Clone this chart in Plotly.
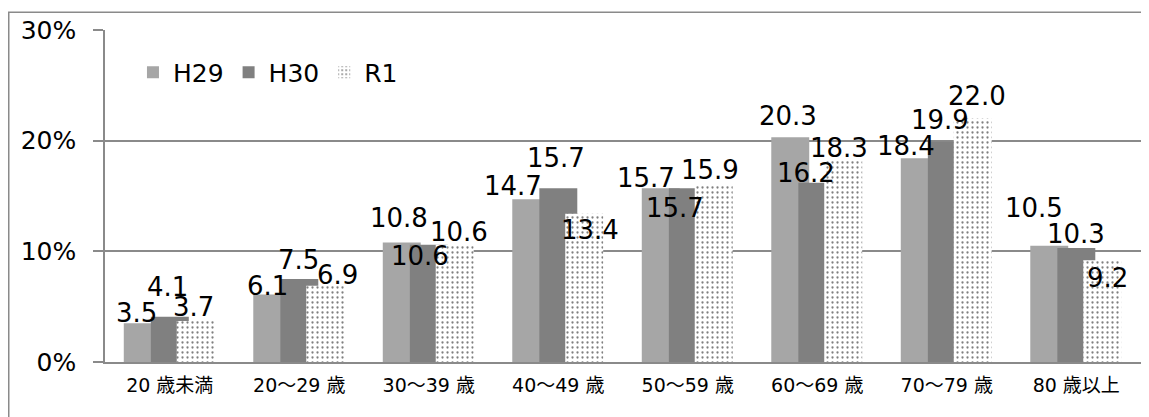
import plotly.graph_objects as go

# age groups and share (%) per fiscal year
ages = ["20 歳未満", "20～29 歳", "30～39 歳", "40～49 歳",
        "50～59 歳", "60～69 歳", "70～79 歳", "80 歳以上"]
h29 = [3.5, 6.1, 10.8, 14.7, 15.7, 20.3, 18.4, 10.5]
h30 = [4.1, 7.5, 10.6, 15.7, 15.7, 16.2, 19.9, 10.3]
r1 = [3.7, 6.9, 10.6, 13.4, 15.9, 18.3, 22.0, 9.2]
y_ticks = [0, 10, 20, 30]
y_tick_text = ["0%", "10%", "20%", "30%"]

FONT = "DejaVu Sans, Noto Sans CJK JP, sans-serif"
GRID = "#8a8a8a"

# bar geometry (overlapping bars, as in the original spreadsheet chart)
BAR_W = 0.293
OFFSETS = [-0.355, -0.146, 0.054]

# hand placed label nudges in px (dx, dy) relative to each bar's top centre
NUDGE = {
    "H29": [(-6, 10), (-5, 8), (-3, 24), (-18, 13), (-15, 10), (-2, 21), (-14, 12), (-15, 38)],
    "H30": [(-2, 30), (-1, 19), (-9, -11), (-2, 30), (-13, -20), (-11, 10), (-7, 22), (0, 14)],
    "R1": [(-2, 14), (12, 11), (4, 13), (6, -16), (-4, 16), (-4, 11), (4, 23), (5, -18)],
}

fig = go.Figure()
fig.add_bar(x=ages, y=h29, name="H29", marker_color="#a6a6a6",
            marker_line_width=0, offset=OFFSETS[0], width=BAR_W)
fig.add_bar(x=ages, y=h30, name="H30", marker_color="#808080",
            marker_line_width=0, offset=OFFSETS[1], width=BAR_W)
fig.add_bar(x=ages, y=r1, name="R1", marker_color="white",
            marker_line_width=0, offset=OFFSETS[2], width=BAR_W,
            marker_pattern=dict(shape=".", fgcolor="#000000", bgcolor="white",
                                size=5, solidity=0.16))

for k, (name, vals) in enumerate([("H29", h29), ("H30", h30), ("R1", r1)]):
    for i, v in enumerate(vals):
        dx, dy = NUDGE[name][i]
        fig.add_annotation(x=i + OFFSETS[k] + BAR_W / 2, y=v, text=f"{v:.1f}",
                           showarrow=False, xanchor="center", yanchor="middle",
                           xshift=dx, yshift=dy,
                           font=dict(size=26, color="black", family=FONT))

# outer chart border
fig.add_shape(type="rect", xref="paper", yref="paper",
              x0=-0.0929, x1=1.02, y0=-0.2, y1=1.0537,
              line=dict(color=GRID, width=1.5), layer="below")

fig.update_layout(
    width=1141, height=409,
    barmode="overlay",
    paper_bgcolor="white", plot_bgcolor="white",
    margin=dict(l=97, r=8, t=19, b=55),
    font=dict(family=FONT, color="black"),
    legend=dict(orientation="h", x=0.027, y=0.872, yanchor="middle",
                xanchor="left", font=dict(size=25), bgcolor="rgba(0,0,0,0)",
                itemwidth=30),
    xaxis=dict(range=[-0.5, 7.5], showgrid=False, showline=True,
               linecolor=GRID, linewidth=1.5, ticks="",
               ticklabelstandoff=5, tickfont=dict(size=19)),
    yaxis=dict(range=[0, 30], tickvals=y_ticks, ticktext=y_tick_text,
               showgrid=True, gridcolor=GRID, gridwidth=1.5,
               showline=True, linecolor=GRID, linewidth=1.5,
               ticks="outside", ticklen=10, tickcolor=GRID, tickwidth=1.5,
               ticklabelstandoff=12, tickfont=dict(size=25), zeroline=False),
)

fig.write_html("out.html")
